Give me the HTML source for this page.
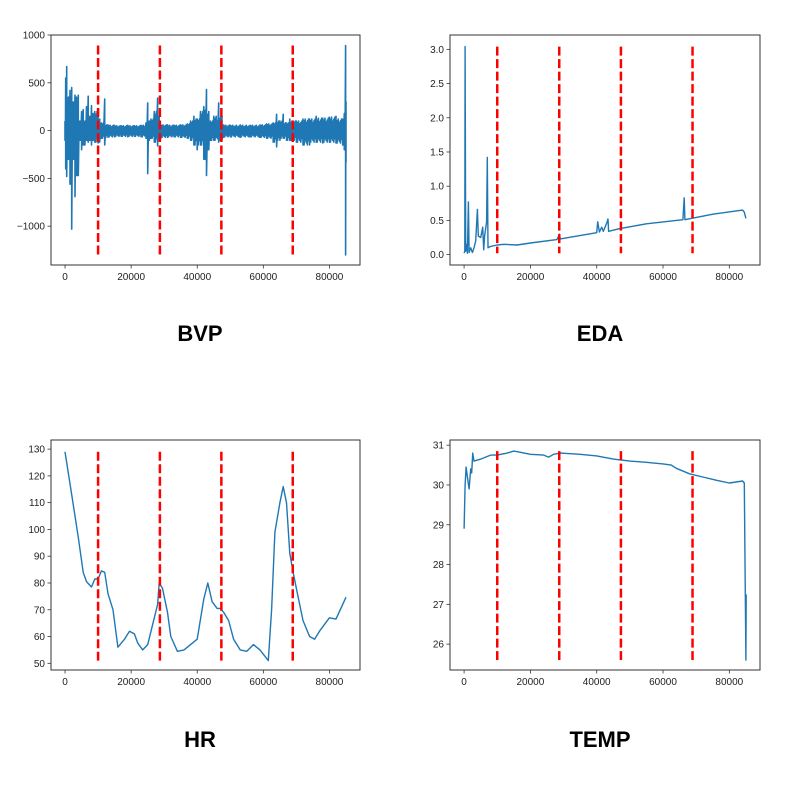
<!DOCTYPE html>
<html><head><meta charset="utf-8">
<style>
body{margin:0;background:#fff;}
svg text{font-family:"Liberation Sans",sans-serif;}
</style></head>
<body>
<svg id="fig" width="800" height="800" xmlns="http://www.w3.org/2000/svg"></svg>
<script>
const xTicks=[0,20000,40000,60000,80000];
const events=[10000,28700,47300,68900];
// BVP envelope (x, upper, lower)
const bvpX=[0,200,500,1000,1500,2000,2500,3000,3500,4000,4500,5000,5500,6000,6500,7000,7500,8000,8500,9000,10000,10500,11000,12000,13000,15000,17000,19000,21000,23000,24500,25000,25500,26000,27000,28000,28500,29000,31000,33000,35000,37000,38000,39000,40000,41000,42000,42800,43500,44000,45000,46500,47500,48000,50000,53000,56000,59000,61000,63000,64000,65000,66000,67000,68000,70000,72000,74000,76000,78000,80000,82000,84000,84500,84900,85000];
const bvpHi=[100,550,670,350,420,450,300,370,350,370,100,200,220,100,250,360,150,260,180,200,230,120,80,330,60,55,50,55,50,55,80,290,100,120,200,340,150,60,60,55,60,70,100,150,120,200,250,430,200,100,150,290,150,60,55,60,55,60,70,80,170,100,170,80,120,100,120,120,150,130,140,150,120,180,890,300];
const bvpLo=[-100,-400,-480,-300,-560,-1030,-300,-690,-470,-470,-100,-200,-150,-150,-100,-120,-100,-150,-100,-120,-130,-120,-80,-150,-70,-65,-60,-65,-60,-65,-80,-450,-100,-80,-120,-160,-100,-80,-70,-65,-70,-80,-100,-150,-200,-150,-300,-470,-200,-100,-100,-120,-100,-70,-65,-70,-65,-70,-80,-120,-170,-100,-80,-100,-100,-120,-150,-150,-120,-130,-120,-130,-150,-200,-1300,-330];
const edaX=[0,200,300,500,800,1000,1300,1500,2000,2500,3000,3500,4000,4300,5000,5600,5900,6200,6800,7000,7200,8000,10000,12000,16000,20000,28000,28800,29000,40000,40300,40800,41500,42000,43000,43400,43600,47000,55000,64000,66000,66400,66600,75000,84000,84500,85000];
const edaY=[0.02,0.05,3.04,0.05,0.15,0.02,0.77,0.03,0.1,0.03,0.1,0.2,0.66,0.27,0.25,0.4,0.07,0.27,0.48,1.42,0.1,0.12,0.14,0.15,0.14,0.17,0.22,0.3,0.23,0.32,0.48,0.33,0.4,0.34,0.46,0.52,0.34,0.38,0.45,0.5,0.51,0.83,0.51,0.59,0.65,0.62,0.53];
const hrX=[0,2000,4000,5500,6500,8000,9000,10000,11000,12000,13000,14500,16000,18000,19500,21000,22000,23500,25000,26000,28000,28500,29500,31000,32000,34000,36000,38000,40000,42000,43200,44500,46000,47000,48000,49500,51000,53000,55000,57000,59000,61500,62500,63500,65000,66000,67000,68000,69000,70500,72000,74000,75500,77000,80000,82000,85000];
const hrY=[129,113,97,84,80.5,78.5,81.5,81.5,84.5,84,76,70,56,59,62,61,57.5,55,57,62,72,80,78,69,60,54.5,55,57,59,74,80,73,70.5,70.5,69,66,59,55,54.5,57,55,51,70,99,110,116,110,91,84,75,66,60,59,62,67,66.5,74.7];
const tempX=[0,300,600,1000,1500,2000,2300,2600,3000,5000,8000,10000,13000,15000,17000,20000,24000,25500,27000,29000,35000,40000,45000,50000,55000,60000,62500,64000,68000,72000,76000,80000,84000,84500,85000,85100];
const tempY=[28.9,30.0,30.45,30.2,29.9,30.4,30.3,30.8,30.6,30.65,30.75,30.75,30.8,30.85,30.82,30.77,30.75,30.7,30.77,30.8,30.77,30.73,30.65,30.6,30.57,30.53,30.5,30.42,30.28,30.2,30.12,30.05,30.1,30.05,25.6,27.25];
const bvpTicks=[1000,500,0,-500,-1000];
const edaTicks=[0,0.5,1.0,1.5,2.0,2.5,3.0];
const hrTicks=[50,60,70,80,90,100,110,120,130];
const tempTicks=[26,27,28,29,30,31];

const NS="http://www.w3.org/2000/svg";
const fig=document.getElementById('fig');
function el(tag,attrs,parent){const e=document.createElementNS(NS,tag);for(const k in attrs)e.setAttribute(k,attrs[k]);(parent||fig).appendChild(e);return e;}
function fmt(v,dec){let s=v.toFixed(dec);return s.replace('-','\u2212');}

function panel(name,L,T,W,H,ylo,yhi,yt,dec,title,tx,ty,xs,ys,band){
  const g=el('g',{});
  
  
  const xlo=-4250,xhi=89250;
  const sx=v=>L+(v-xlo)/(xhi-xlo)*W;
  const sy=v=>T+H-(v-ylo)/(yhi-ylo)*H;
  let d='';
  if(band){
    xs.forEach((x,i)=>{d+=(i?'L':'M')+sx(x).toFixed(1)+' '+sy(ys[0][i]).toFixed(1)+'L'+sx(x).toFixed(1)+' '+sy(ys[1][i]).toFixed(1);
      if(i<xs.length-1){const n=Math.max(2,Math.round((sx(xs[i+1])-sx(x))/1.2));for(let k=1;k<n;k++){const xx=x+(xs[i+1]-x)*k/n;const h=Math.min(ys[0][i],ys[0][i+1])*(0.7+0.3*(k%3)/2),l=Math.max(ys[1][i],ys[1][i+1])*(0.7+0.3*((k+1)%3)/2);d+='L'+sx(xx).toFixed(1)+' '+sy(h).toFixed(1)+'L'+sx(xx).toFixed(1)+' '+sy(l).toFixed(1);}}
    });
  } else {
    xs.forEach((x,i)=>{d+=(i?'L':'M')+sx(x).toFixed(1)+' '+sy(ys[i]).toFixed(1);});
  }
  const p=el('path',{d:d,fill:'none',stroke:'#1f77b4','stroke-width':band?1.6:1.4,'stroke-linejoin':'round'},g);
  
  
  let mn=Infinity,mx=-Infinity;
  (band?ys[0].concat(ys[1]):ys).forEach(v=>{mn=Math.min(mn,v);mx=Math.max(mx,v);});
  events.forEach((e,i)=>{
    const ln=el('line',{x1:sx(e),x2:sx(e),y1:sy(mx),y2:sy(mn),stroke:'#ff0000','stroke-width':2.5,'stroke-dasharray':'9,3.5'},g);
    
    
  });
  const fr=el('rect',{x:L,y:T,width:W,height:H,fill:'none',stroke:'#333','stroke-width':1},g);
  
  
  xTicks.forEach(t=>{
    const x=sx(t);
    el('line',{x1:x,x2:x,y1:T+H,y2:T+H+3.5,stroke:'#333','stroke-width':0.8},g);
    const tt=el('text',{x:x,y:T+H+15,'font-size':10,'text-anchor':'middle',fill:'#222'},g);
    tt.textContent=t;
    
    
  });
  yt.forEach(t=>{
    const y=sy(t);
    el('line',{x1:L-3.5,x2:L,y1:y,y2:y,stroke:'#333','stroke-width':0.8},g);
    const tt=el('text',{x:L-6,y:y+3.5,'font-size':10,'text-anchor':'end',fill:'#222'},g);
    tt.textContent=fmt(t,dec);
    
    
  });
  const ti=el('text',{x:tx,y:ty,'font-size':22,'font-weight':'bold','text-anchor':'middle',fill:'#000'},g);
  ti.textContent=title;
  
  
}
panel('bvp',51,35,309,230,-1406,1000,bvpTicks,0,'BVP',200,341,bvpX,[bvpHi,bvpLo],true);
panel('eda',450,35,310,230,-0.152,3.21,edaTicks,1,'EDA',600,341,edaX,edaY,false);
panel('hr',51,440,309,230,47.5,133.4,hrTicks,0,'HR',200,747,hrX,hrY,false);
panel('temp',450,440,310,230,25.35,31.13,tempTicks,0,'TEMP',600,747,tempX,tempY,false);
</script>
</body></html>
